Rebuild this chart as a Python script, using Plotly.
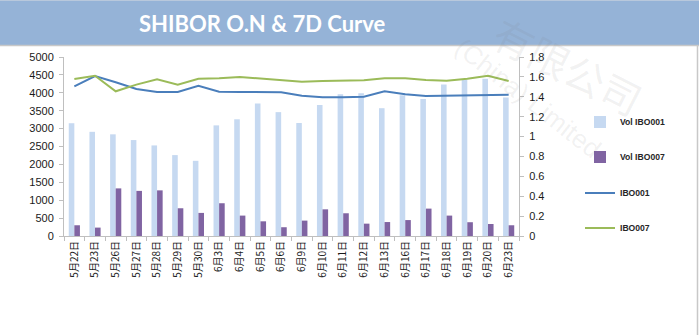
import plotly.graph_objects as go

# Trading dates
dates = ["5月22日", "5月23日", "5月26日", "5月27日", "5月28日", "5月29日", "5月30日",
         "6月3日", "6月4日", "6月5日", "6月6日", "6月9日", "6月10日", "6月11日",
         "6月12日", "6月13日", "6月16日", "6月17日", "6月18日", "6月19日", "6月20日",
         "6月23日"]

# Traded volumes (left axis)
vol_ibo001 = [3150, 2910, 2840, 2680, 2530, 2260, 2100, 3090, 3260, 3700, 3460,
              3156, 3660, 3960, 3990, 3570, 3930, 3830, 4230, 4370, 4390, 3870]
vol_ibo007 = [300, 235, 1330, 1260, 1275, 775, 645, 915, 570, 410, 245,
              430, 745, 635, 345, 390, 445, 765, 570, 385, 335, 300]

# Rates (right axis)
ibo001 = [1.505, 1.609, 1.546, 1.478, 1.448, 1.448, 1.511, 1.450, 1.448, 1.445, 1.445,
          1.411, 1.394, 1.394, 1.401, 1.455, 1.425, 1.408, 1.411, 1.411, 1.421, 1.421]
ibo007 = [1.579, 1.612, 1.455, 1.522, 1.576, 1.522, 1.582, 1.586, 1.599, 1.582, 1.569,
          1.552, 1.559, 1.559, 1.566, 1.586, 1.586, 1.569, 1.562, 1.582, 1.612, 1.559]

W, H = 700, 335
ML, MR, MT, MB = 64, 181, 57, 99
PW, PH = W - ML - MR, H - MT - MB


def px(x):
    return (x - ML) / PW


def py(y):
    return (H - MB - y) / PH


AXIS_GREY = "#BFBFBF"
TICK_FONT = dict(family="Liberation Sans, Arial, sans-serif", size=11, color="#1a1a1a")
LEG_FONT = dict(family="Liberation Sans, Arial, sans-serif", size=8.6, color="#262626",
                weight="bold")

fig = go.Figure()
fig.add_trace(go.Bar(x=dates, y=vol_ibo001, name="Vol IBO001",
                     marker=dict(color="#C6D9F1", line=dict(width=0)), legend="legend"))
fig.add_trace(go.Bar(x=dates, y=vol_ibo007, name="Vol IBO007",
                     marker=dict(color="#8064A2", line=dict(width=0)), legend="legend2"))
fig.add_trace(go.Scatter(x=dates, y=ibo001, name="IBO001", mode="lines", yaxis="y2",
                         line=dict(color="#4A7EBB", width=2), legend="legend3"))
fig.add_trace(go.Scatter(x=dates, y=ibo007, name="IBO007", mode="lines", yaxis="y2",
                         line=dict(color="#9BBB59", width=2), legend="legend4"))


def leg(ypix):
    return dict(x=px(580), y=py(ypix), xanchor="left", yanchor="middle",
                bgcolor="rgba(0,0,0,0)", borderwidth=0, font=LEG_FONT,
                itemwidth=30)


fig.update_layout(
    width=W, height=H,
    margin=dict(l=ML, r=MR, t=MT, b=MB, pad=0),
    paper_bgcolor="white", plot_bgcolor="white",
    barmode="group", bargap=0.46, bargroupgap=0,
    showlegend=True,
    legend=leg(122), legend2=leg(157), legend3=leg(193), legend4=leg(228),
    xaxis=dict(type="category", tickangle=-90, tickson="boundaries",
               ticks="outside", ticklen=4, tickcolor=AXIS_GREY,
               showline=True, linecolor=AXIS_GREY, linewidth=1, showgrid=False,
               tickfont=dict(family="Noto Sans CJK SC, sans-serif", size=10,
                             color="#1a1a1a")),
    yaxis=dict(range=[0, 5000], dtick=500, ticks="outside", ticklen=4,
               tickcolor=AXIS_GREY, showline=True, linecolor=AXIS_GREY,
               linewidth=1, showgrid=False, zeroline=False, tickfont=TICK_FONT,
               ticklabelstandoff=3),
    yaxis2=dict(range=[0, 1.8], dtick=0.2, overlaying="y", side="right",
                ticks="outside", ticklen=4, tickcolor=AXIS_GREY, showline=True,
                linecolor=AXIS_GREY, linewidth=1, showgrid=False, zeroline=False,
                tickfont=TICK_FONT, ticklabelstandoff=3),
    shapes=[
        # title band
        dict(type="rect", xref="paper", yref="paper", x0=px(0), x1=px(699),
             y0=py(45), y1=py(0), fillcolor="#95B3D7", line=dict(width=0),
             layer="below"),
        dict(type="line", xref="paper", yref="paper", x0=px(0), x1=px(699),
             y0=py(45.5), y1=py(45.5), line=dict(color="#C8C8C8", width=1.5)),
        dict(type="line", xref="paper", yref="paper", x0=px(0), x1=px(699),
             y0=py(0.5), y1=py(0.5), line=dict(color="#B8C8DC", width=1)),
        # right frame edge
        dict(type="line", xref="paper", yref="paper", x0=px(697.5), x1=px(697.5),
             y0=py(46), y1=py(335), line=dict(color="#C8C8C8", width=1.5)),
    ],
    annotations=[
        dict(text="SHIBOR O.N & 7D Curve", xref="paper", yref="paper",
             x=px(262), y=py(23), xanchor="center", yanchor="middle",
             showarrow=False,
             font=dict(family="Lato, Open Sans, sans-serif", size=22,
                       color="white", weight="bold")),
        # faint company watermark
        dict(text="有限公司", xref="paper", yref="paper", x=px(568), y=py(66),
             xanchor="center", yanchor="middle", showarrow=False, textangle=27,
             font=dict(family="Noto Sans CJK SC, sans-serif", size=40,
                       color="rgba(120,120,120,0.10)")),
        dict(text="(China) Limited", xref="paper", yref="paper", x=px(528), y=py(98),
             xanchor="center", yanchor="middle", showarrow=False, textangle=38,
             font=dict(family="Liberation Sans, Arial, sans-serif", size=26,
                       color="rgba(120,120,120,0.10)")),
    ],
)

fig.write_html("out.html")
